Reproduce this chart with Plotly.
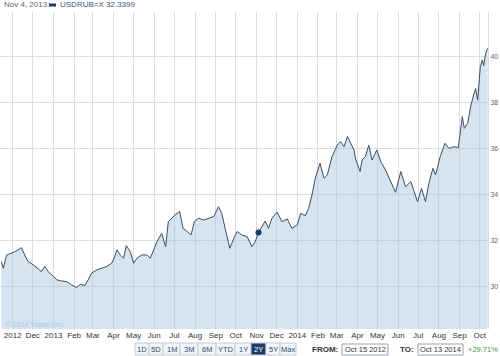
import plotly.graph_objects as go

# ---- data ----
dates = [
    "2012-10-15", "2012-10-18", "2012-10-23", "2012-10-30", "2012-11-04", "2012-11-09", "2012-11-14",
    "2012-11-19", "2012-11-24", "2012-12-02", "2012-12-09", "2012-12-14", "2012-12-19", "2012-12-24",
    "2013-01-01", "2013-01-06", "2013-01-13", "2013-01-21", "2013-01-28", "2013-02-05", "2013-02-10",
    "2013-02-17", "2013-02-22", "2013-02-27", "2013-03-07", "2013-03-14", "2013-03-22", "2013-03-29",
    "2013-04-02", "2013-04-06", "2013-04-11", "2013-04-16", "2013-04-20", "2013-04-26", "2013-05-01",
    "2013-05-06", "2013-05-13", "2013-05-21", "2013-05-26", "2013-05-31", "2013-06-05", "2013-06-12",
    "2013-06-18", "2013-06-22", "2013-06-27", "2013-07-02", "2013-07-09", "2013-07-14", "2013-07-20",
    "2013-07-26", "2013-07-31", "2013-08-06", "2013-08-14", "2013-08-21", "2013-08-29", "2013-09-05",
    "2013-09-10", "2013-09-15", "2013-09-22", "2013-09-28", "2013-10-03", "2013-10-10", "2013-10-18",
    "2013-10-25", "2013-10-30", "2013-11-04", "2013-11-09", "2013-11-14", "2013-11-19", "2013-11-24",
    "2013-12-02", "2013-12-09", "2013-12-17", "2013-12-24", "2014-01-01", "2014-01-06", "2014-01-13",
    "2014-01-18", "2014-01-23", "2014-01-28", "2014-02-04", "2014-02-10", "2014-02-15", "2014-02-22",
    "2014-03-02", "2014-03-07", "2014-03-12", "2014-03-17", "2014-03-22", "2014-03-27", "2014-03-29",
    "2014-04-05", "2014-04-08", "2014-04-13", "2014-04-18", "2014-04-23", "2014-04-30", "2014-05-06",
    "2014-05-13", "2014-05-21", "2014-05-28", "2014-06-05", "2014-06-12", "2014-06-20", "2014-06-25",
    "2014-06-30", "2014-07-06", "2014-07-12", "2014-07-17", "2014-07-23", "2014-07-27", "2014-08-03",
    "2014-08-10", "2014-08-16", "2014-08-24", "2014-08-30", "2014-09-05", "2014-09-08", "2014-09-13",
    "2014-09-18", "2014-09-22", "2014-09-25", "2014-09-28", "2014-10-02", "2014-10-05", "2014-10-07",
    "2014-10-10", "2014-10-13",
]
values = [
    31.07, 30.78, 31.36, 31.43, 31.50, 31.58, 31.68,
    31.36, 31.07, 30.93, 30.78, 30.64, 30.86, 30.64,
    30.42, 30.28, 30.23, 30.20, 30.06, 29.94, 30.09,
    30.03, 30.28, 30.57, 30.71, 30.78, 30.86, 31.00,
    31.22, 31.58, 31.36, 31.22, 31.77, 31.50, 31.00,
    31.22, 31.36, 31.36, 31.22, 31.58, 31.94, 32.30,
    31.72, 32.81, 32.96, 33.10, 33.25, 32.52, 32.38,
    32.23, 32.81, 32.96, 32.88, 32.96, 33.03, 33.46,
    33.17, 32.52, 31.65, 32.09, 32.38, 32.23, 32.16,
    31.72, 31.94, 32.34, 32.59, 32.84, 32.52, 32.96,
    33.22, 32.81, 32.93, 32.52, 32.67, 33.17, 33.07,
    33.39, 33.97, 34.70, 35.35, 34.70, 34.84, 35.64,
    36.14, 36.29, 36.07, 36.51, 36.22, 35.93, 35.57,
    34.99, 35.49, 35.64, 36.14, 35.49, 35.93, 35.42,
    35.06, 34.55, 34.09, 34.99, 34.33, 34.55, 34.12,
    33.68, 34.26, 33.68, 34.48, 35.13, 34.84, 35.64,
    36.22, 36.00, 36.07, 36.03, 37.38, 36.87, 37.09,
    37.88, 38.32, 38.60, 38.10, 39.55, 39.84, 39.60,
    40.13, 40.35,
]
marker_date = "2013-11-04"
marker_value = 32.3399

tick_dates = [
    "2012-11-01", "2012-12-01", "2013-01-01", "2013-02-01", "2013-03-01", "2013-04-01",
    "2013-05-01", "2013-06-01", "2013-07-01", "2013-08-01", "2013-09-01", "2013-10-01",
    "2013-11-01", "2013-12-01", "2014-01-01", "2014-02-01", "2014-03-01", "2014-04-01",
    "2014-05-01", "2014-06-01", "2014-07-01", "2014-08-01", "2014-09-01", "2014-10-01",
]
tick_labels = [
    "2012", "Dec", "2013", "Feb", "Mar", "Apr", "May", "Jun", "Jul", "Aug", "Sep", "Oct",
    "Nov", "Dec", "2014", "Feb", "Mar", "Apr", "May", "Jun", "Jul", "Aug", "Sep", "Oct",
]
y_ticks = [30, 32, 34, 36, 38, 40]
range_buttons = ["1D", "5D", "1M", "3M", "6M", "YTD", "1Y", "2Y", "5Y", "Max"]
active_button = "2Y"

# ---- layout geometry ----
W, H = 500, 356
ML, MR, MT, MB = 0, 12, 12, 27
PW = W - ML - MR
PH = H - MT - MB


def px(x):
    return (x - ML) / PW


def py(y):
    return (H - MB - y) / PH


FONT = "Liberation Sans"

fig = go.Figure()
fig.add_trace(go.Scatter(
    x=dates, y=values, mode="lines",
    line=dict(color="#3b4e60", width=1),
    fill="tozeroy", fillcolor="rgba(160,195,225,0.45)",
    hoverinfo="skip", showlegend=False,
))
fig.add_trace(go.Scatter(
    x=[marker_date], y=[marker_value], mode="markers",
    marker=dict(color="#1d3a66", size=6),
    hoverinfo="skip", showlegend=False,
))

shapes = []
annotations = []

# header
annotations.append(dict(xref="paper", yref="paper", x=px(2), y=py(5), xanchor="left", yanchor="middle",
                        text="Nov 4, 2013:", showarrow=False,
                        font=dict(family=FONT, size=8, color="#666666")))
shapes.append(dict(type="rect", xref="paper", yref="paper", x0=px(49), x1=px(56), y0=py(6.5), y1=py(3.5),
                   fillcolor="#1d3a66", line=dict(width=0)))
annotations.append(dict(xref="paper", yref="paper", x=px(58), y=py(5), xanchor="left", yanchor="middle",
                        text="USDRUB=X 32.3399", showarrow=False,
                        font=dict(family=FONT, size=8, color="#3d5470")))

# watermark
annotations.append(dict(xref="paper", yref="paper", x=px(4), y=py(324), xanchor="left", yanchor="middle",
                        text="© 2014 Yahoo! Inc.", showarrow=False,
                        font=dict(family=FONT, size=7, color="#b3c7da")))

# range buttons
edges = [135, 149, 163, 180, 198, 216, 235, 251, 266, 280, 296]
by0, by1 = 343, 355
for i, lab in enumerate(range_buttons):
    x0, x1 = edges[i], edges[i + 1]
    active = lab == active_button
    shapes.append(dict(type="rect", xref="paper", yref="paper", x0=px(x0), x1=px(x1), y0=py(by1), y1=py(by0),
                       fillcolor="#1e3c6e" if active else "#f3f5f8",
                       line=dict(color="#c5ccd6", width=1)))
    annotations.append(dict(xref="paper", yref="paper", x=px((x0 + x1) / 2), y=py((by0 + by1) / 2),
                            xanchor="center", yanchor="middle", text=lab, showarrow=False,
                            font=dict(family=FONT, size=7.5, color="#ffffff" if active else "#2c4a78")))

# FROM / TO
annotations.append(dict(xref="paper", yref="paper", x=px(340), y=py(349.5), xanchor="right", yanchor="middle",
                        text="<b>FROM:</b>", showarrow=False, font=dict(family=FONT, size=8, color="#333333")))
shapes.append(dict(type="rect", xref="paper", yref="paper", x0=px(342), x1=px(388), y0=py(355), y1=py(344),
                   fillcolor="#ffffff", line=dict(color="#9aa3ad", width=1)))
annotations.append(dict(xref="paper", yref="paper", x=px(365), y=py(349.5), xanchor="center", yanchor="middle",
                        text="Oct 15 2012", showarrow=False, font=dict(family=FONT, size=7.5, color="#333333")))
annotations.append(dict(xref="paper", yref="paper", x=px(416), y=py(349.5), xanchor="right", yanchor="middle",
                        text="<b>TO:</b>", showarrow=False, font=dict(family=FONT, size=8, color="#333333")))
shapes.append(dict(type="rect", xref="paper", yref="paper", x0=px(418), x1=px(463), y0=py(355), y1=py(344),
                   fillcolor="#ffffff", line=dict(color="#9aa3ad", width=1)))
annotations.append(dict(xref="paper", yref="paper", x=px(440.5), y=py(349.5), xanchor="center", yanchor="middle",
                        text="Oct 13 2014", showarrow=False, font=dict(family=FONT, size=7.5, color="#333333")))
annotations.append(dict(xref="paper", yref="paper", x=px(466), y=py(349.5), xanchor="left", yanchor="middle",
                        text="+29.71%", showarrow=False, font=dict(family=FONT, size=7.5, color="#3a9a3a")))

fig.update_layout(
    width=W, height=H,
    margin=dict(l=ML, r=MR, t=MT, b=MB, pad=0),
    paper_bgcolor="#ffffff", plot_bgcolor="#ffffff",
    showlegend=False,
    shapes=shapes, annotations=annotations,
    xaxis=dict(
        type="date", range=["2012-10-13", "2014-10-13 12:00"],
        tickmode="array", tickvals=tick_dates, ticktext=tick_labels,
        showgrid=True, gridcolor="#dcdcdc", gridwidth=1,
        showline=False, zeroline=False, ticks="",
        tickfont=dict(family=FONT, size=8, color="#333333"),
        fixedrange=True,
    ),
    yaxis=dict(
        side="right", range=[28.14, 41.93],
        tickmode="array", tickvals=y_ticks,
        showgrid=True, gridcolor="#dcdcdc", gridwidth=1,
        showline=True, linecolor="#dcdcdc", linewidth=1, mirror=False,
        zeroline=False, ticks="",
        tickfont=dict(family=FONT, size=7, color="#666666"),
        fixedrange=True,
    ),
)

fig.write_html(
    "out.html",
    config={"displayModeBar": False, "staticPlot": True},
    post_script="document.body.style.margin='0';document.body.style.overflow='hidden';",
)
